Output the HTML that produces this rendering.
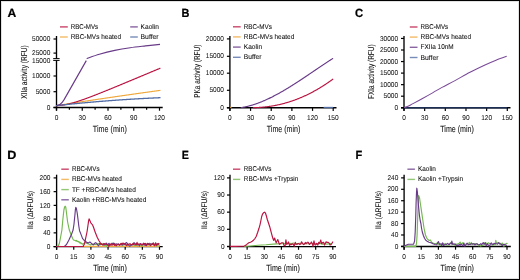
<!DOCTYPE html>
<html><head><meta charset="utf-8"><style>
html,body{margin:0;padding:0;background:#fff;}
body{width:520px;height:280px;overflow:hidden;position:relative;font-family:"Liberation Sans", sans-serif;}
</style></head><body>
<svg width="520" height="280" viewBox="0 0 520 280" text-rendering="geometricPrecision" style="position:absolute;left:0;top:0" font-family='"Liberation Sans", sans-serif'>
<defs><filter id="bl" x="-5%" y="-5%" width="110%" height="110%"><feGaussianBlur stdDeviation="0.32"/></filter></defs>
<rect x="0" y="0" width="520" height="280" fill="#fff"/>
<g filter="url(#bl)">
<rect x="1.5" y="1.5" width="517" height="277" fill="none" stroke="#e2e2e2" stroke-width="1"/>
<rect x="0.5" y="0.5" width="519" height="279" fill="none" stroke="#000" stroke-width="1"/>
<text transform="translate(7.40,16.75) scale(1.02,1)" font-size="11.9" font-weight="bold" fill="#000" stroke="#000" stroke-width="0.22">A</text>
<line x1="56.50" y1="36.00" x2="56.50" y2="58.60" stroke="#000" stroke-width="1.35"/>
<line x1="56.50" y1="60.40" x2="56.50" y2="110.60" stroke="#000" stroke-width="1.35"/>
<line x1="53.20" y1="58.60" x2="59.60" y2="58.60" stroke="#000" stroke-width="1.0"/>
<line x1="53.20" y1="60.40" x2="59.60" y2="60.40" stroke="#000" stroke-width="1.0"/>
<line x1="53.50" y1="39.00" x2="56.50" y2="39.00" stroke="#000" stroke-width="1.2"/>
<text x="50.30" y="41.15" font-size="7.0" text-anchor="end" font-weight="normal" fill="#111" stroke="#111" stroke-width="0.04" textLength="18.2" lengthAdjust="spacingAndGlyphs">50000</text>
<line x1="53.50" y1="53.10" x2="56.50" y2="53.10" stroke="#000" stroke-width="1.2"/>
<text x="50.30" y="55.25" font-size="7.0" text-anchor="end" font-weight="normal" fill="#111" stroke="#111" stroke-width="0.04" textLength="18.2" lengthAdjust="spacingAndGlyphs">25000</text>
<line x1="53.50" y1="76.00" x2="56.50" y2="76.00" stroke="#000" stroke-width="1.2"/>
<text x="50.30" y="78.15" font-size="7.0" text-anchor="end" font-weight="normal" fill="#111" stroke="#111" stroke-width="0.04" textLength="18.2" lengthAdjust="spacingAndGlyphs">10000</text>
<line x1="53.50" y1="91.70" x2="56.50" y2="91.70" stroke="#000" stroke-width="1.2"/>
<text x="50.30" y="93.85" font-size="7.0" text-anchor="end" font-weight="normal" fill="#111" stroke="#111" stroke-width="0.04" textLength="14.56" lengthAdjust="spacingAndGlyphs">5000</text>
<line x1="53.50" y1="107.50" x2="56.50" y2="107.50" stroke="#000" stroke-width="1.2"/>
<text x="50.30" y="109.65" font-size="7.0" text-anchor="end" font-weight="normal" fill="#111" stroke="#111" stroke-width="0.04" textLength="3.64" lengthAdjust="spacingAndGlyphs">0</text>
<text x="50.30" y="62.55" font-size="7.0" text-anchor="end" font-weight="normal" fill="#111" stroke="#111" stroke-width="0.04" textLength="18.2" lengthAdjust="spacingAndGlyphs">15000</text>
<line x1="53.50" y1="107.50" x2="162.70" y2="107.50" stroke="#000" stroke-width="1.35"/>
<line x1="56.50" y1="107.50" x2="56.50" y2="110.70" stroke="#000" stroke-width="1.2"/>
<text x="56.50" y="119.60" font-size="7.0" text-anchor="middle" font-weight="normal" fill="#111" stroke="#111" stroke-width="0.04" textLength="3.64" lengthAdjust="spacingAndGlyphs">0</text>
<line x1="69.38" y1="107.50" x2="69.38" y2="109.70" stroke="#000" stroke-width="1.2"/>
<line x1="82.25" y1="107.50" x2="82.25" y2="110.70" stroke="#000" stroke-width="1.2"/>
<text x="82.25" y="119.60" font-size="7.0" text-anchor="middle" font-weight="normal" fill="#111" stroke="#111" stroke-width="0.04" textLength="7.28" lengthAdjust="spacingAndGlyphs">30</text>
<line x1="95.12" y1="107.50" x2="95.12" y2="109.70" stroke="#000" stroke-width="1.2"/>
<line x1="108.00" y1="107.50" x2="108.00" y2="110.70" stroke="#000" stroke-width="1.2"/>
<text x="108.00" y="119.60" font-size="7.0" text-anchor="middle" font-weight="normal" fill="#111" stroke="#111" stroke-width="0.04" textLength="7.28" lengthAdjust="spacingAndGlyphs">60</text>
<line x1="120.88" y1="107.50" x2="120.88" y2="109.70" stroke="#000" stroke-width="1.2"/>
<line x1="133.75" y1="107.50" x2="133.75" y2="110.70" stroke="#000" stroke-width="1.2"/>
<text x="133.75" y="119.60" font-size="7.0" text-anchor="middle" font-weight="normal" fill="#111" stroke="#111" stroke-width="0.04" textLength="7.28" lengthAdjust="spacingAndGlyphs">90</text>
<line x1="146.62" y1="107.50" x2="146.62" y2="109.70" stroke="#000" stroke-width="1.2"/>
<line x1="159.50" y1="107.50" x2="159.50" y2="110.70" stroke="#000" stroke-width="1.2"/>
<text x="159.50" y="119.60" font-size="7.0" text-anchor="middle" font-weight="normal" fill="#111" stroke="#111" stroke-width="0.04" textLength="10.92" lengthAdjust="spacingAndGlyphs">120</text>
<text x="109.85" y="131.75" font-size="9.2" text-anchor="middle" font-weight="normal" fill="#111" stroke="#111" stroke-width="0.08" textLength="34.0" lengthAdjust="spacingAndGlyphs">Time (min)</text>
<text transform="translate(26.60,72.00) rotate(-90)" x="0" y="0" font-size="8.6" text-anchor="middle" fill="#111" stroke="#111" stroke-width="0.08" textLength="53.5" lengthAdjust="spacingAndGlyphs">XIIa activity (RFU)</text>
<line x1="60.00" y1="26.90" x2="67.80" y2="26.90" stroke="#c9466a" stroke-width="1.4"/>
<text x="70.70" y="28.60" font-size="7.0" text-anchor="start" font-weight="normal" fill="#111" stroke="#111" stroke-width="0.08" textLength="27.5" lengthAdjust="spacingAndGlyphs">RBC-MVs</text>
<line x1="60.00" y1="37.00" x2="67.80" y2="37.00" stroke="#f3bb66" stroke-width="1.4"/>
<text x="70.70" y="38.80" font-size="7.0" text-anchor="start" font-weight="normal" fill="#111" stroke="#111" stroke-width="0.08" textLength="50.3" lengthAdjust="spacingAndGlyphs">RBC-MVs heated</text>
<line x1="130.20" y1="26.90" x2="137.80" y2="26.90" stroke="#8965a2" stroke-width="1.4"/>
<text x="140.60" y="28.60" font-size="7.0" text-anchor="start" font-weight="normal" fill="#111" stroke="#111" stroke-width="0.08" textLength="18.4" lengthAdjust="spacingAndGlyphs">Kaolin</text>
<line x1="130.20" y1="37.00" x2="137.80" y2="37.00" stroke="#778cb8" stroke-width="1.4"/>
<text x="140.60" y="38.80" font-size="7.0" text-anchor="start" font-weight="normal" fill="#111" stroke="#111" stroke-width="0.08" textLength="18.0" lengthAdjust="spacingAndGlyphs">Buffer</text>
<polyline points="56.50,105.60 57.00,105.52 57.50,105.44 58.00,105.37 58.50,105.29 59.00,105.21 59.50,105.13 60.00,105.05 60.50,104.98 61.00,104.90 61.50,104.82 62.00,104.74 62.50,104.66 63.00,104.59 63.50,104.51 64.00,104.43 64.50,104.35 65.00,104.28 65.50,104.20 66.00,104.12 66.50,104.04 67.00,103.97 67.50,103.89 68.00,103.81 68.50,103.74 69.00,103.66 69.50,103.58 70.00,103.50 70.50,103.43 71.00,103.35 71.50,103.27 72.00,103.20 72.50,103.12 73.00,103.04 73.50,102.97 74.00,102.89 74.50,102.81 75.00,102.74 75.50,102.66 76.00,102.58 76.50,102.51 77.00,102.43 77.50,102.35 78.00,102.28 78.50,102.20 79.00,102.13 79.50,102.05 80.00,101.97 80.50,101.90 81.00,101.82 81.50,101.75 82.00,101.67 82.50,101.59 83.00,101.52 83.50,101.44 84.00,101.37 84.50,101.29 85.00,101.22 85.50,101.14 86.00,101.06 86.50,100.99 87.00,100.91 87.50,100.84 88.00,100.76 88.50,100.69 89.00,100.61 89.50,100.54 90.00,100.46 90.50,100.39 91.00,100.31 91.50,100.24 92.00,100.16 92.50,100.09 93.00,100.01 93.50,99.94 94.00,99.86 94.50,99.79 95.00,99.71 95.50,99.64 96.00,99.56 96.50,99.49 97.00,99.42 97.50,99.34 98.00,99.27 98.50,99.19 99.00,99.12 99.50,99.04 100.00,98.97 100.50,98.90 101.00,98.82 101.50,98.75 102.00,98.67 102.50,98.60 103.00,98.53 103.50,98.45 104.00,98.38 104.50,98.30 105.00,98.23 105.50,98.16 106.00,98.08 106.50,98.01 107.00,97.94 107.50,97.86 108.00,97.79 108.50,97.72 109.00,97.64 109.50,97.57 110.00,97.50 110.50,97.42 111.00,97.35 111.50,97.28 112.00,97.20 112.50,97.13 113.00,97.06 113.50,96.98 114.00,96.91 114.50,96.84 115.00,96.77 115.50,96.69 116.00,96.62 116.50,96.55 117.00,96.47 117.50,96.40 118.00,96.33 118.50,96.26 119.00,96.18 119.50,96.11 120.00,96.04 120.50,95.97 121.00,95.90 121.50,95.82 122.00,95.75 122.50,95.68 123.00,95.61 123.50,95.53 124.00,95.46 124.50,95.39 125.00,95.32 125.50,95.25 126.00,95.18 126.50,95.10 127.00,95.03 127.50,94.96 128.00,94.89 128.50,94.82 129.00,94.75 129.50,94.67 130.00,94.60 130.50,94.53 131.00,94.46 131.50,94.39 132.00,94.32 132.50,94.25 133.00,94.18 133.50,94.10 134.00,94.03 134.50,93.96 135.00,93.89 135.50,93.82 136.00,93.75 136.50,93.68 137.00,93.61 137.50,93.54 138.00,93.47 138.50,93.40 139.00,93.33 139.50,93.26 140.00,93.18 140.50,93.11 141.00,93.04 141.50,92.97 142.00,92.90 142.50,92.83 143.00,92.76 143.50,92.69 144.00,92.62 144.50,92.55 145.00,92.48 145.50,92.41 146.00,92.34 146.50,92.27 147.00,92.20 147.50,92.13 148.00,92.06 148.50,91.99 149.00,91.92 149.50,91.86 150.00,91.79 150.50,91.72 151.00,91.65 151.50,91.58 152.00,91.51 152.50,91.44 153.00,91.37 153.50,91.30 154.00,91.23 154.50,91.16 155.00,91.09 155.50,91.02 156.00,90.95 156.50,90.89 157.00,90.82 157.50,90.75 158.00,90.68 158.50,90.61 159.00,90.54 159.50,90.47 160.00,90.40" fill="none" stroke="#f0a83c" stroke-width="1.15" stroke-linejoin="round" stroke-linecap="round"/>
<polyline points="56.50,105.60 57.00,105.60 57.50,105.59 58.00,105.57 58.50,105.55 59.00,105.52 59.50,105.48 60.00,105.44 60.50,105.39 61.00,105.34 61.50,105.28 62.00,105.22 62.50,105.15 63.00,105.08 63.50,105.00 64.00,104.92 64.50,104.83 65.00,104.74 65.50,104.65 66.00,104.55 66.50,104.45 67.00,104.34 67.50,104.23 68.00,104.12 68.50,104.00 69.00,103.89 69.50,103.76 70.00,103.64 70.50,103.51 71.00,103.38 71.50,103.25 72.00,103.11 72.50,102.97 73.00,102.83 73.50,102.69 74.00,102.55 74.50,102.40 75.00,102.25 75.50,102.10 76.00,101.95 76.50,101.79 77.00,101.63 77.50,101.47 78.00,101.31 78.50,101.15 79.00,100.99 79.50,100.82 80.00,100.66 80.50,100.49 81.00,100.32 81.50,100.15 82.00,99.97 82.50,99.80 83.00,99.63 83.50,99.45 84.00,99.27 84.50,99.09 85.00,98.92 85.50,98.74 86.00,98.55 86.50,98.37 87.00,98.19 87.50,98.00 88.00,97.82 88.50,97.63 89.00,97.45 89.50,97.26 90.00,97.07 90.50,96.88 91.00,96.69 91.50,96.50 92.00,96.31 92.50,96.12 93.00,95.93 93.50,95.74 94.00,95.54 94.50,95.35 95.00,95.15 95.50,94.96 96.00,94.76 96.50,94.57 97.00,94.37 97.50,94.17 98.00,93.98 98.50,93.78 99.00,93.58 99.50,93.38 100.00,93.18 100.50,92.98 101.00,92.78 101.50,92.58 102.00,92.38 102.50,92.18 103.00,91.98 103.50,91.78 104.00,91.58 104.50,91.38 105.00,91.18 105.50,90.97 106.00,90.77 106.50,90.57 107.00,90.37 107.50,90.16 108.00,89.96 108.50,89.75 109.00,89.55 109.50,89.35 110.00,89.14 110.50,88.94 111.00,88.73 111.50,88.53 112.00,88.32 112.50,88.12 113.00,87.91 113.50,87.71 114.00,87.50 114.50,87.29 115.00,87.09 115.50,86.88 116.00,86.68 116.50,86.47 117.00,86.26 117.50,86.06 118.00,85.85 118.50,85.64 119.00,85.44 119.50,85.23 120.00,85.02 120.50,84.81 121.00,84.61 121.50,84.40 122.00,84.19 122.50,83.98 123.00,83.78 123.50,83.57 124.00,83.36 124.50,83.15 125.00,82.95 125.50,82.74 126.00,82.53 126.50,82.32 127.00,82.11 127.50,81.90 128.00,81.70 128.50,81.49 129.00,81.28 129.50,81.07 130.00,80.86 130.50,80.65 131.00,80.45 131.50,80.24 132.00,80.03 132.50,79.82 133.00,79.61 133.50,79.40 134.00,79.19 134.50,78.98 135.00,78.77 135.50,78.57 136.00,78.36 136.50,78.15 137.00,77.94 137.50,77.73 138.00,77.52 138.50,77.31 139.00,77.10 139.50,76.89 140.00,76.68 140.50,76.47 141.00,76.26 141.50,76.05 142.00,75.85 142.50,75.64 143.00,75.43 143.50,75.22 144.00,75.01 144.50,74.80 145.00,74.59 145.50,74.38 146.00,74.17 146.50,73.96 147.00,73.75 147.50,73.54 148.00,73.33 148.50,73.12 149.00,72.91 149.50,72.70 150.00,72.49 150.50,72.28 151.00,72.07 151.50,71.86 152.00,71.65 152.50,71.44 153.00,71.24 153.50,71.03 154.00,70.82 154.50,70.61 155.00,70.40 155.50,70.19 156.00,69.98 156.50,69.77 157.00,69.56 157.50,69.35 158.00,69.14 158.50,68.93 159.00,68.72 159.50,68.51 160.00,68.30" fill="none" stroke="#bb1240" stroke-width="1.15" stroke-linejoin="round" stroke-linecap="round"/>
<polyline points="56.50,105.60 57.00,105.55 57.50,105.49 58.00,105.44 58.50,105.38 59.00,105.33 59.50,105.27 60.00,105.22 60.50,105.17 61.00,105.11 61.50,105.06 62.00,105.01 62.50,104.95 63.00,104.90 63.50,104.85 64.00,104.79 64.50,104.74 65.00,104.69 65.50,104.64 66.00,104.59 66.50,104.53 67.00,104.48 67.50,104.43 68.00,104.38 68.50,104.33 69.00,104.28 69.50,104.23 70.00,104.18 70.50,104.12 71.00,104.07 71.50,104.02 72.00,103.97 72.50,103.92 73.00,103.87 73.50,103.83 74.00,103.78 74.50,103.73 75.00,103.68 75.50,103.63 76.00,103.58 76.50,103.53 77.00,103.48 77.50,103.43 78.00,103.39 78.50,103.34 79.00,103.29 79.50,103.24 80.00,103.20 80.50,103.15 81.00,103.10 81.50,103.05 82.00,103.01 82.50,102.96 83.00,102.92 83.50,102.87 84.00,102.82 84.50,102.78 85.00,102.73 85.50,102.69 86.00,102.64 86.50,102.59 87.00,102.55 87.50,102.50 88.00,102.46 88.50,102.41 89.00,102.37 89.50,102.33 90.00,102.28 90.50,102.24 91.00,102.19 91.50,102.15 92.00,102.11 92.50,102.06 93.00,102.02 93.50,101.98 94.00,101.93 94.50,101.89 95.00,101.85 95.50,101.81 96.00,101.76 96.50,101.72 97.00,101.68 97.50,101.64 98.00,101.60 98.50,101.56 99.00,101.51 99.50,101.47 100.00,101.43 100.50,101.39 101.00,101.35 101.50,101.31 102.00,101.27 102.50,101.23 103.00,101.19 103.50,101.15 104.00,101.11 104.50,101.07 105.00,101.03 105.50,100.99 106.00,100.95 106.50,100.91 107.00,100.88 107.50,100.84 108.00,100.80 108.50,100.76 109.00,100.72 109.50,100.69 110.00,100.65 110.50,100.61 111.00,100.57 111.50,100.54 112.00,100.50 112.50,100.46 113.00,100.42 113.50,100.39 114.00,100.35 114.50,100.32 115.00,100.28 115.50,100.24 116.00,100.21 116.50,100.17 117.00,100.14 117.50,100.10 118.00,100.07 118.50,100.03 119.00,100.00 119.50,99.96 120.00,99.93 120.50,99.89 121.00,99.86 121.50,99.83 122.00,99.79 122.50,99.76 123.00,99.72 123.50,99.69 124.00,99.66 124.50,99.62 125.00,99.59 125.50,99.56 126.00,99.53 126.50,99.49 127.00,99.46 127.50,99.43 128.00,99.40 128.50,99.37 129.00,99.34 129.50,99.30 130.00,99.27 130.50,99.24 131.00,99.21 131.50,99.18 132.00,99.15 132.50,99.12 133.00,99.09 133.50,99.06 134.00,99.03 134.50,99.00 135.00,98.97 135.50,98.94 136.00,98.91 136.50,98.88 137.00,98.85 137.50,98.82 138.00,98.80 138.50,98.77 139.00,98.74 139.50,98.71 140.00,98.68 140.50,98.65 141.00,98.63 141.50,98.60 142.00,98.57 142.50,98.54 143.00,98.52 143.50,98.49 144.00,98.46 144.50,98.44 145.00,98.41 145.50,98.39 146.00,98.36 146.50,98.33 147.00,98.31 147.50,98.28 148.00,98.26 148.50,98.23 149.00,98.21 149.50,98.18 150.00,98.16 150.50,98.13 151.00,98.11 151.50,98.08 152.00,98.06 152.50,98.04 153.00,98.01 153.50,97.99 154.00,97.96 154.50,97.94 155.00,97.92 155.50,97.90 156.00,97.87 156.50,97.85 157.00,97.83 157.50,97.81 158.00,97.78 158.50,97.76 159.00,97.74 159.50,97.72 160.00,97.70" fill="none" stroke="#516ca5" stroke-width="1.3" stroke-linejoin="round" stroke-linecap="round"/>
<path d="M56.8,105.6 C59.2,105.3 60.8,104.2 62.2,102.3 L64.1,99.6 L86.3,60.6" fill="none" stroke="#683a88" stroke-width="1.15" stroke-linejoin="round"/>
<path d="M86.70,58.60 C88.82,57.88 94.72,55.67 99.40,54.30 C104.08,52.93 109.67,51.50 114.80,50.40 C119.93,49.30 125.08,48.45 130.20,47.70 C135.32,46.95 140.53,46.45 145.50,45.90 C150.47,45.35 157.58,44.65 160.00,44.40" fill="none" stroke="#683a88" stroke-width="1.15" stroke-linejoin="round"/>
<text transform="translate(181.42,16.75) scale(0.92,1)" font-size="11.9" font-weight="bold" fill="#000" stroke="#000" stroke-width="0.22">B</text>
<line x1="229.90" y1="36.00" x2="229.90" y2="110.80" stroke="#000" stroke-width="1.35"/>
<line x1="226.90" y1="38.90" x2="229.90" y2="38.90" stroke="#000" stroke-width="1.2"/>
<text x="224.00" y="41.05" font-size="7.0" text-anchor="end" font-weight="normal" fill="#111" stroke="#111" stroke-width="0.04" textLength="18.2" lengthAdjust="spacingAndGlyphs">20000</text>
<line x1="226.90" y1="56.30" x2="229.90" y2="56.30" stroke="#000" stroke-width="1.2"/>
<text x="224.00" y="58.45" font-size="7.0" text-anchor="end" font-weight="normal" fill="#111" stroke="#111" stroke-width="0.04" textLength="18.2" lengthAdjust="spacingAndGlyphs">15000</text>
<line x1="226.90" y1="73.20" x2="229.90" y2="73.20" stroke="#000" stroke-width="1.2"/>
<text x="224.00" y="75.35" font-size="7.0" text-anchor="end" font-weight="normal" fill="#111" stroke="#111" stroke-width="0.04" textLength="18.2" lengthAdjust="spacingAndGlyphs">10000</text>
<line x1="226.90" y1="90.30" x2="229.90" y2="90.30" stroke="#000" stroke-width="1.2"/>
<text x="224.00" y="92.45" font-size="7.0" text-anchor="end" font-weight="normal" fill="#111" stroke="#111" stroke-width="0.04" textLength="14.56" lengthAdjust="spacingAndGlyphs">5000</text>
<line x1="226.90" y1="107.70" x2="229.90" y2="107.70" stroke="#000" stroke-width="1.2"/>
<text x="224.00" y="109.85" font-size="7.0" text-anchor="end" font-weight="normal" fill="#111" stroke="#111" stroke-width="0.04" textLength="3.64" lengthAdjust="spacingAndGlyphs">0</text>
<line x1="226.90" y1="107.70" x2="336.50" y2="107.70" stroke="#000" stroke-width="1.35"/>
<line x1="229.90" y1="107.70" x2="229.90" y2="110.90" stroke="#000" stroke-width="1.2"/>
<text x="229.90" y="119.60" font-size="7.0" text-anchor="middle" font-weight="normal" fill="#111" stroke="#111" stroke-width="0.04" textLength="3.64" lengthAdjust="spacingAndGlyphs">0</text>
<line x1="250.56" y1="107.70" x2="250.56" y2="110.90" stroke="#000" stroke-width="1.2"/>
<text x="250.56" y="119.60" font-size="7.0" text-anchor="middle" font-weight="normal" fill="#111" stroke="#111" stroke-width="0.04" textLength="7.28" lengthAdjust="spacingAndGlyphs">30</text>
<line x1="271.22" y1="107.70" x2="271.22" y2="110.90" stroke="#000" stroke-width="1.2"/>
<text x="271.22" y="119.60" font-size="7.0" text-anchor="middle" font-weight="normal" fill="#111" stroke="#111" stroke-width="0.04" textLength="7.28" lengthAdjust="spacingAndGlyphs">60</text>
<line x1="291.88" y1="107.70" x2="291.88" y2="110.90" stroke="#000" stroke-width="1.2"/>
<text x="291.88" y="119.60" font-size="7.0" text-anchor="middle" font-weight="normal" fill="#111" stroke="#111" stroke-width="0.04" textLength="7.28" lengthAdjust="spacingAndGlyphs">90</text>
<line x1="312.54" y1="107.70" x2="312.54" y2="110.90" stroke="#000" stroke-width="1.2"/>
<text x="312.54" y="119.60" font-size="7.0" text-anchor="middle" font-weight="normal" fill="#111" stroke="#111" stroke-width="0.04" textLength="10.92" lengthAdjust="spacingAndGlyphs">120</text>
<line x1="333.20" y1="107.70" x2="333.20" y2="110.90" stroke="#000" stroke-width="1.2"/>
<text x="333.20" y="119.60" font-size="7.0" text-anchor="middle" font-weight="normal" fill="#111" stroke="#111" stroke-width="0.04" textLength="10.92" lengthAdjust="spacingAndGlyphs">150</text>
<text x="283.60" y="131.80" font-size="9.2" text-anchor="middle" font-weight="normal" fill="#111" stroke="#111" stroke-width="0.08" textLength="33.7" lengthAdjust="spacingAndGlyphs">Time (min)</text>
<text transform="translate(200.40,71.20) rotate(-90)" x="0" y="0" font-size="8.6" text-anchor="middle" fill="#111" stroke="#111" stroke-width="0.08" textLength="53.2" lengthAdjust="spacingAndGlyphs">PKa activity (RFU)</text>
<line x1="233.00" y1="26.80" x2="240.70" y2="26.80" stroke="#c9466a" stroke-width="1.4"/>
<text x="243.80" y="28.90" font-size="7.0" text-anchor="start" font-weight="normal" fill="#111" stroke="#111" stroke-width="0.08" textLength="28.0" lengthAdjust="spacingAndGlyphs">RBC-MVs</text>
<line x1="233.00" y1="36.90" x2="240.70" y2="36.90" stroke="#f3bb66" stroke-width="1.4"/>
<text x="243.80" y="39.00" font-size="7.0" text-anchor="start" font-weight="normal" fill="#111" stroke="#111" stroke-width="0.08" textLength="50.5" lengthAdjust="spacingAndGlyphs">RBC-MVs heated</text>
<line x1="233.00" y1="47.10" x2="240.70" y2="47.10" stroke="#8965a2" stroke-width="1.4"/>
<text x="243.80" y="49.20" font-size="7.0" text-anchor="start" font-weight="normal" fill="#111" stroke="#111" stroke-width="0.08" textLength="18.3" lengthAdjust="spacingAndGlyphs">Kaolin</text>
<line x1="233.00" y1="57.30" x2="240.70" y2="57.30" stroke="#778cb8" stroke-width="1.4"/>
<text x="243.80" y="59.40" font-size="7.0" text-anchor="start" font-weight="normal" fill="#111" stroke="#111" stroke-width="0.08" textLength="17.8" lengthAdjust="spacingAndGlyphs">Buffer</text>
<line x1="230.20" y1="107.40" x2="231.50" y2="107.40" stroke="#f0a83c" stroke-width="1.3"/>
<line x1="323.60" y1="107.50" x2="333.20" y2="107.50" stroke="#516ca5" stroke-width="1.3"/>
<polyline points="241.20,107.60 241.70,107.54 242.20,107.46 242.70,107.37 243.20,107.28 243.70,107.19 244.20,107.09 244.70,106.99 245.20,106.88 245.70,106.78 246.20,106.67 246.70,106.55 247.20,106.44 247.70,106.32 248.20,106.19 248.70,106.06 249.20,105.93 249.70,105.80 250.20,105.66 250.70,105.52 251.20,105.38 251.70,105.24 252.20,105.09 252.70,104.93 253.20,104.78 253.70,104.62 254.20,104.46 254.70,104.30 255.20,104.13 255.70,103.96 256.20,103.79 256.70,103.61 257.20,103.43 257.70,103.25 258.20,103.07 258.70,102.88 259.20,102.69 259.70,102.50 260.20,102.30 260.70,102.11 261.20,101.91 261.70,101.70 262.20,101.50 262.70,101.29 263.20,101.08 263.70,100.87 264.20,100.65 264.70,100.44 265.20,100.22 265.70,99.99 266.20,99.77 266.70,99.54 267.20,99.31 267.70,99.08 268.20,98.84 268.70,98.61 269.20,98.37 269.70,98.13 270.20,97.88 270.70,97.64 271.20,97.39 271.70,97.14 272.20,96.89 272.70,96.64 273.20,96.38 273.70,96.12 274.20,95.86 274.70,95.60 275.20,95.34 275.70,95.07 276.20,94.81 276.70,94.54 277.20,94.27 277.70,93.99 278.20,93.72 278.70,93.44 279.20,93.16 279.70,92.88 280.20,92.60 280.70,92.32 281.20,92.03 281.70,91.75 282.20,91.46 282.70,91.17 283.20,90.88 283.70,90.59 284.20,90.29 284.70,90.00 285.20,89.70 285.70,89.40 286.20,89.10 286.70,88.80 287.20,88.50 287.70,88.19 288.20,87.89 288.70,87.58 289.20,87.27 289.70,86.96 290.20,86.65 290.70,86.34 291.20,86.03 291.70,85.72 292.20,85.40 292.70,85.09 293.20,84.77 293.70,84.45 294.20,84.13 294.70,83.81 295.20,83.49 295.70,83.17 296.20,82.85 296.70,82.52 297.20,82.20 297.70,81.88 298.20,81.55 298.70,81.22 299.20,80.90 299.70,80.57 300.20,80.24 300.70,79.91 301.20,79.58 301.70,79.25 302.20,78.92 302.70,78.58 303.20,78.25 303.70,77.92 304.20,77.59 304.70,77.25 305.20,76.92 305.70,76.58 306.20,76.25 306.70,75.91 307.20,75.57 307.70,75.24 308.20,74.90 308.70,74.56 309.20,74.23 309.70,73.89 310.20,73.55 310.70,73.21 311.20,72.88 311.70,72.54 312.20,72.20 312.70,71.86 313.20,71.52 313.70,71.18 314.20,70.85 314.70,70.51 315.20,70.17 315.70,69.83 316.20,69.49 316.70,69.16 317.20,68.82 317.70,68.48 318.20,68.14 318.70,67.80 319.20,67.47 319.70,67.13 320.20,66.79 320.70,66.46 321.20,66.12 321.70,65.79 322.20,65.45 322.70,65.12 323.20,64.78 323.70,64.45 324.20,64.11 324.70,63.78 325.20,63.45 325.70,63.12 326.20,62.79 326.70,62.46 327.20,62.13 327.70,61.80 328.20,61.47 328.70,61.14 329.20,60.81 329.70,60.49 330.20,60.16 330.70,59.84 331.20,59.51 331.70,59.19 332.20,58.87 332.70,58.54" fill="none" stroke="#683a88" stroke-width="1.15" stroke-linejoin="round" stroke-linecap="round"/>
<polyline points="253.30,107.64 253.80,107.63 254.30,107.63 254.80,107.62 255.30,107.60 255.80,107.59 256.30,107.57 256.80,107.55 257.30,107.53 257.80,107.51 258.30,107.49 258.80,107.46 259.30,107.43 259.80,107.40 260.30,107.37 260.80,107.33 261.30,107.30 261.80,107.26 262.30,107.22 262.80,107.18 263.30,107.13 263.80,107.08 264.30,107.03 264.80,106.98 265.30,106.93 265.80,106.88 266.30,106.82 266.80,106.76 267.30,106.70 267.80,106.63 268.30,106.57 268.80,106.50 269.30,106.43 269.80,106.36 270.30,106.28 270.80,106.21 271.30,106.13 271.80,106.05 272.30,105.97 272.80,105.88 273.30,105.79 273.80,105.71 274.30,105.61 274.80,105.52 275.30,105.43 275.80,105.33 276.30,105.23 276.80,105.13 277.30,105.02 277.80,104.92 278.30,104.81 278.80,104.70 279.30,104.58 279.80,104.47 280.30,104.35 280.80,104.23 281.30,104.11 281.80,103.99 282.30,103.86 282.80,103.73 283.30,103.60 283.80,103.47 284.30,103.34 284.80,103.20 285.30,103.06 285.80,102.92 286.30,102.78 286.80,102.63 287.30,102.48 287.80,102.33 288.30,102.18 288.80,102.03 289.30,101.87 289.80,101.71 290.30,101.55 290.80,101.38 291.30,101.22 291.80,101.05 292.30,100.88 292.80,100.71 293.30,100.53 293.80,100.35 294.30,100.17 294.80,99.99 295.30,99.81 295.80,99.62 296.30,99.43 296.80,99.24 297.30,99.05 297.80,98.85 298.30,98.66 298.80,98.46 299.30,98.25 299.80,98.05 300.30,97.84 300.80,97.63 301.30,97.42 301.80,97.21 302.30,96.99 302.80,96.77 303.30,96.55 303.80,96.33 304.30,96.10 304.80,95.87 305.30,95.64 305.80,95.41 306.30,95.17 306.80,94.94 307.30,94.70 307.80,94.45 308.30,94.21 308.80,93.96 309.30,93.71 309.80,93.46 310.30,93.21 310.80,92.95 311.30,92.69 311.80,92.43 312.30,92.16 312.80,91.90 313.30,91.63 313.80,91.36 314.30,91.08 314.80,90.81 315.30,90.53 315.80,90.25 316.30,89.97 316.80,89.68 317.30,89.39 317.80,89.10 318.30,88.81 318.80,88.51 319.30,88.22 319.80,87.91 320.30,87.61 320.80,87.31 321.30,87.00 321.80,86.69 322.30,86.38 322.80,86.06 323.30,85.74 323.80,85.42 324.30,85.10 324.80,84.78 325.30,84.45 325.80,84.12 326.30,83.78 326.80,83.45 327.30,83.11 327.80,82.77 328.30,82.43 328.80,82.08 329.30,81.74 329.80,81.39 330.30,81.03 330.80,80.68 331.30,80.32 331.80,79.96 332.30,79.60 332.80,79.23" fill="none" stroke="#bb1240" stroke-width="1.15" stroke-linejoin="round" stroke-linecap="round"/>
<text transform="translate(354.89,16.80) scale(0.95,1)" font-size="11.9" font-weight="bold" fill="#000" stroke="#000" stroke-width="0.22">C</text>
<line x1="404.00" y1="36.00" x2="404.00" y2="110.80" stroke="#000" stroke-width="1.35"/>
<line x1="401.00" y1="38.45" x2="404.00" y2="38.45" stroke="#000" stroke-width="1.2"/>
<text x="398.10" y="40.60" font-size="7.0" text-anchor="end" font-weight="normal" fill="#111" stroke="#111" stroke-width="0.04" textLength="18.2" lengthAdjust="spacingAndGlyphs">30000</text>
<line x1="401.00" y1="50.00" x2="404.00" y2="50.00" stroke="#000" stroke-width="1.2"/>
<text x="398.10" y="52.15" font-size="7.0" text-anchor="end" font-weight="normal" fill="#111" stroke="#111" stroke-width="0.04" textLength="18.2" lengthAdjust="spacingAndGlyphs">25000</text>
<line x1="401.00" y1="61.55" x2="404.00" y2="61.55" stroke="#000" stroke-width="1.2"/>
<text x="398.10" y="63.70" font-size="7.0" text-anchor="end" font-weight="normal" fill="#111" stroke="#111" stroke-width="0.04" textLength="18.2" lengthAdjust="spacingAndGlyphs">20000</text>
<line x1="401.00" y1="73.10" x2="404.00" y2="73.10" stroke="#000" stroke-width="1.2"/>
<text x="398.10" y="75.25" font-size="7.0" text-anchor="end" font-weight="normal" fill="#111" stroke="#111" stroke-width="0.04" textLength="18.2" lengthAdjust="spacingAndGlyphs">15000</text>
<line x1="401.00" y1="84.65" x2="404.00" y2="84.65" stroke="#000" stroke-width="1.2"/>
<text x="398.10" y="86.80" font-size="7.0" text-anchor="end" font-weight="normal" fill="#111" stroke="#111" stroke-width="0.04" textLength="18.2" lengthAdjust="spacingAndGlyphs">10000</text>
<line x1="401.00" y1="96.20" x2="404.00" y2="96.20" stroke="#000" stroke-width="1.2"/>
<text x="398.10" y="98.35" font-size="7.0" text-anchor="end" font-weight="normal" fill="#111" stroke="#111" stroke-width="0.04" textLength="14.56" lengthAdjust="spacingAndGlyphs">5000</text>
<line x1="401.00" y1="107.75" x2="404.00" y2="107.75" stroke="#000" stroke-width="1.2"/>
<text x="398.10" y="109.90" font-size="7.0" text-anchor="end" font-weight="normal" fill="#111" stroke="#111" stroke-width="0.04" textLength="3.64" lengthAdjust="spacingAndGlyphs">0</text>
<line x1="401.00" y1="107.70" x2="510.50" y2="107.70" stroke="#000" stroke-width="1.35"/>
<line x1="404.00" y1="107.70" x2="404.00" y2="110.90" stroke="#000" stroke-width="1.2"/>
<text x="404.00" y="119.60" font-size="7.0" text-anchor="middle" font-weight="normal" fill="#111" stroke="#111" stroke-width="0.04" textLength="3.64" lengthAdjust="spacingAndGlyphs">0</text>
<line x1="424.66" y1="107.70" x2="424.66" y2="110.90" stroke="#000" stroke-width="1.2"/>
<text x="424.66" y="119.60" font-size="7.0" text-anchor="middle" font-weight="normal" fill="#111" stroke="#111" stroke-width="0.04" textLength="7.28" lengthAdjust="spacingAndGlyphs">30</text>
<line x1="445.32" y1="107.70" x2="445.32" y2="110.90" stroke="#000" stroke-width="1.2"/>
<text x="445.32" y="119.60" font-size="7.0" text-anchor="middle" font-weight="normal" fill="#111" stroke="#111" stroke-width="0.04" textLength="7.28" lengthAdjust="spacingAndGlyphs">60</text>
<line x1="465.98" y1="107.70" x2="465.98" y2="110.90" stroke="#000" stroke-width="1.2"/>
<text x="465.98" y="119.60" font-size="7.0" text-anchor="middle" font-weight="normal" fill="#111" stroke="#111" stroke-width="0.04" textLength="7.28" lengthAdjust="spacingAndGlyphs">90</text>
<line x1="486.64" y1="107.70" x2="486.64" y2="110.90" stroke="#000" stroke-width="1.2"/>
<text x="486.64" y="119.60" font-size="7.0" text-anchor="middle" font-weight="normal" fill="#111" stroke="#111" stroke-width="0.04" textLength="10.92" lengthAdjust="spacingAndGlyphs">120</text>
<line x1="507.30" y1="107.70" x2="507.30" y2="110.90" stroke="#000" stroke-width="1.2"/>
<text x="507.30" y="119.60" font-size="7.0" text-anchor="middle" font-weight="normal" fill="#111" stroke="#111" stroke-width="0.04" textLength="10.92" lengthAdjust="spacingAndGlyphs">150</text>
<text x="457.10" y="131.75" font-size="9.2" text-anchor="middle" font-weight="normal" fill="#111" stroke="#111" stroke-width="0.08" textLength="33.7" lengthAdjust="spacingAndGlyphs">Time (min)</text>
<text transform="translate(374.20,71.70) rotate(-90)" x="0" y="0" font-size="8.6" text-anchor="middle" fill="#111" stroke="#111" stroke-width="0.08" textLength="54.6" lengthAdjust="spacingAndGlyphs">FXIa activity (RFU)</text>
<line x1="409.80" y1="27.00" x2="417.50" y2="27.00" stroke="#c9466a" stroke-width="1.4"/>
<text x="420.50" y="29.10" font-size="7.0" text-anchor="start" font-weight="normal" fill="#111" stroke="#111" stroke-width="0.08" textLength="27.7" lengthAdjust="spacingAndGlyphs">RBC-MVs</text>
<line x1="409.80" y1="37.10" x2="417.50" y2="37.10" stroke="#f3bb66" stroke-width="1.4"/>
<text x="420.50" y="39.20" font-size="7.0" text-anchor="start" font-weight="normal" fill="#111" stroke="#111" stroke-width="0.08" textLength="50.5" lengthAdjust="spacingAndGlyphs">RBC-MVs heated</text>
<line x1="409.80" y1="47.30" x2="417.50" y2="47.30" stroke="#8965a2" stroke-width="1.4"/>
<text x="420.50" y="49.40" font-size="7.0" text-anchor="start" font-weight="normal" fill="#111" stroke="#111" stroke-width="0.08" textLength="33.1" lengthAdjust="spacingAndGlyphs">FXIIa 10nM</text>
<line x1="409.80" y1="57.50" x2="417.50" y2="57.50" stroke="#778cb8" stroke-width="1.4"/>
<text x="420.50" y="59.60" font-size="7.0" text-anchor="start" font-weight="normal" fill="#111" stroke="#111" stroke-width="0.08" textLength="17.9" lengthAdjust="spacingAndGlyphs">Buffer</text>
<line x1="404.00" y1="107.70" x2="507.30" y2="107.70" stroke="#1a2d52" stroke-width="1.35"/>
<path d="M404.00,107.60 C404.67,107.38 406.50,106.97 408.00,106.30 C409.50,105.63 410.43,104.98 413.00,103.60 C415.57,102.22 420.07,99.83 423.40,98.00 C426.73,96.17 429.90,94.37 433.00,92.60 C436.10,90.83 438.33,89.40 442.00,87.40 C445.67,85.40 450.33,83.12 455.00,80.60 C459.67,78.08 465.00,74.90 470.00,72.30 C475.00,69.70 480.67,67.02 485.00,65.00 C489.33,62.98 492.38,61.65 496.00,60.20 C499.62,58.75 504.92,56.95 506.70,56.30" fill="none" stroke="#7a4a98" stroke-width="1.05" stroke-linejoin="round"/>
<text transform="translate(7.25,159.40) scale(1.06,1)" font-size="11.9" font-weight="bold" fill="#000" stroke="#000" stroke-width="0.22">D</text>
<line x1="56.60" y1="174.70" x2="56.60" y2="249.80" stroke="#000" stroke-width="1.35"/>
<line x1="53.60" y1="246.60" x2="56.60" y2="246.60" stroke="#000" stroke-width="1.2"/>
<text x="50.50" y="248.75" font-size="7.0" text-anchor="end" font-weight="normal" fill="#111" stroke="#111" stroke-width="0.04" textLength="3.64" lengthAdjust="spacingAndGlyphs">0</text>
<line x1="53.60" y1="232.86" x2="56.60" y2="232.86" stroke="#000" stroke-width="1.2"/>
<text x="50.50" y="235.01" font-size="7.0" text-anchor="end" font-weight="normal" fill="#111" stroke="#111" stroke-width="0.04" textLength="7.28" lengthAdjust="spacingAndGlyphs">40</text>
<line x1="53.60" y1="219.12" x2="56.60" y2="219.12" stroke="#000" stroke-width="1.2"/>
<text x="50.50" y="221.27" font-size="7.0" text-anchor="end" font-weight="normal" fill="#111" stroke="#111" stroke-width="0.04" textLength="7.28" lengthAdjust="spacingAndGlyphs">80</text>
<line x1="53.60" y1="205.38" x2="56.60" y2="205.38" stroke="#000" stroke-width="1.2"/>
<text x="50.50" y="207.53" font-size="7.0" text-anchor="end" font-weight="normal" fill="#111" stroke="#111" stroke-width="0.04" textLength="10.92" lengthAdjust="spacingAndGlyphs">120</text>
<line x1="53.60" y1="191.64" x2="56.60" y2="191.64" stroke="#000" stroke-width="1.2"/>
<text x="50.50" y="193.79" font-size="7.0" text-anchor="end" font-weight="normal" fill="#111" stroke="#111" stroke-width="0.04" textLength="10.92" lengthAdjust="spacingAndGlyphs">160</text>
<line x1="53.60" y1="177.90" x2="56.60" y2="177.90" stroke="#000" stroke-width="1.2"/>
<text x="50.50" y="180.05" font-size="7.0" text-anchor="end" font-weight="normal" fill="#111" stroke="#111" stroke-width="0.04" textLength="10.92" lengthAdjust="spacingAndGlyphs">200</text>
<line x1="53.60" y1="246.60" x2="162.70" y2="246.60" stroke="#000" stroke-width="1.35"/>
<line x1="56.60" y1="246.60" x2="56.60" y2="249.80" stroke="#000" stroke-width="1.2"/>
<text x="56.60" y="258.70" font-size="7.0" text-anchor="middle" font-weight="normal" fill="#111" stroke="#111" stroke-width="0.04" textLength="3.64" lengthAdjust="spacingAndGlyphs">0</text>
<line x1="73.75" y1="246.60" x2="73.75" y2="249.80" stroke="#000" stroke-width="1.2"/>
<text x="73.75" y="258.70" font-size="7.0" text-anchor="middle" font-weight="normal" fill="#111" stroke="#111" stroke-width="0.04" textLength="7.28" lengthAdjust="spacingAndGlyphs">15</text>
<line x1="90.90" y1="246.60" x2="90.90" y2="249.80" stroke="#000" stroke-width="1.2"/>
<text x="90.90" y="258.70" font-size="7.0" text-anchor="middle" font-weight="normal" fill="#111" stroke="#111" stroke-width="0.04" textLength="7.28" lengthAdjust="spacingAndGlyphs">30</text>
<line x1="108.05" y1="246.60" x2="108.05" y2="249.80" stroke="#000" stroke-width="1.2"/>
<text x="108.05" y="258.70" font-size="7.0" text-anchor="middle" font-weight="normal" fill="#111" stroke="#111" stroke-width="0.04" textLength="7.28" lengthAdjust="spacingAndGlyphs">45</text>
<line x1="125.20" y1="246.60" x2="125.20" y2="249.80" stroke="#000" stroke-width="1.2"/>
<text x="125.20" y="258.70" font-size="7.0" text-anchor="middle" font-weight="normal" fill="#111" stroke="#111" stroke-width="0.04" textLength="7.28" lengthAdjust="spacingAndGlyphs">60</text>
<line x1="142.35" y1="246.60" x2="142.35" y2="249.80" stroke="#000" stroke-width="1.2"/>
<text x="142.35" y="258.70" font-size="7.0" text-anchor="middle" font-weight="normal" fill="#111" stroke="#111" stroke-width="0.04" textLength="7.28" lengthAdjust="spacingAndGlyphs">75</text>
<line x1="159.50" y1="246.60" x2="159.50" y2="249.80" stroke="#000" stroke-width="1.2"/>
<text x="159.50" y="258.70" font-size="7.0" text-anchor="middle" font-weight="normal" fill="#111" stroke="#111" stroke-width="0.04" textLength="7.28" lengthAdjust="spacingAndGlyphs">90</text>
<text x="110.00" y="271.05" font-size="9.2" text-anchor="middle" font-weight="normal" fill="#111" stroke="#111" stroke-width="0.08" textLength="33.7" lengthAdjust="spacingAndGlyphs">Time (min)</text>
<text transform="translate(33.10,209.90) rotate(-90)" x="0" y="0" font-size="8.1" text-anchor="middle" fill="#111" stroke="#111" stroke-width="0.08" textLength="38.0" lengthAdjust="spacingAndGlyphs">IIa (ΔRFU/s)</text>
<line x1="61.30" y1="169.20" x2="68.80" y2="169.20" stroke="#c9466a" stroke-width="1.4"/>
<text x="71.90" y="171.20" font-size="7.0" text-anchor="start" font-weight="normal" fill="#111" stroke="#111" stroke-width="0.08" textLength="27.7" lengthAdjust="spacingAndGlyphs">RBC-MVs</text>
<line x1="61.30" y1="179.40" x2="68.80" y2="179.40" stroke="#f3bb66" stroke-width="1.4"/>
<text x="71.90" y="181.40" font-size="7.0" text-anchor="start" font-weight="normal" fill="#111" stroke="#111" stroke-width="0.08" textLength="50.0" lengthAdjust="spacingAndGlyphs">RBC-MVs heated</text>
<line x1="61.30" y1="189.60" x2="68.80" y2="189.60" stroke="#92c776" stroke-width="1.4"/>
<text x="71.90" y="191.70" font-size="7.0" text-anchor="start" font-weight="normal" fill="#111" stroke="#111" stroke-width="0.08" textLength="63.9" lengthAdjust="spacingAndGlyphs">TF +RBC-MVs heated</text>
<line x1="61.30" y1="199.80" x2="68.80" y2="199.80" stroke="#8965a2" stroke-width="1.4"/>
<text x="71.90" y="201.90" font-size="7.0" text-anchor="start" font-weight="normal" fill="#111" stroke="#111" stroke-width="0.08" textLength="74.4" lengthAdjust="spacingAndGlyphs">Kaolin +RBC-MVs heated</text>
<line x1="83.50" y1="246.30" x2="159.50" y2="246.30" stroke="#f0a83c" stroke-width="1.2"/>
<polyline points="56.80,246.30 58.30,246.00 59.50,243.00 60.80,236.00 61.90,230.00 62.80,220.00 63.90,210.00 64.60,207.00 65.10,206.20 65.70,206.80 66.20,210.50 66.80,215.50 67.70,222.50 69.30,230.00 71.30,235.20 72.50,238.20 73.50,240.00 74.60,240.30 75.80,241.00 76.50,240.40 77.10,241.60 77.80,241.10 78.40,242.00 79.00,241.60 79.60,242.90 80.30,242.40 80.90,243.60 81.50,243.20 82.20,244.20 83.00,243.90 83.80,243.60 84.50,242.80 85.10,242.30 85.90,243.00 86.70,243.20 87.60,243.80 88.60,243.90 89.60,244.50 90.60,244.90 91.50,244.30 92.50,244.20 93.50,244.70 94.60,244.30 95.70,244.50 96.60,244.10 97.60,243.90 99.00,243.62 100.25,244.77 101.23,243.54 102.04,244.45 103.05,243.62 103.81,243.57 104.69,245.60 105.81,245.21 106.53,246.30 107.62,244.29 108.69,244.57 109.71,244.60 110.45,244.70 111.16,245.00 112.14,243.21 113.15,245.01 114.24,243.44 115.21,244.50 116.08,246.30 117.28,244.47 118.41,244.29 119.28,244.98 120.02,244.57 121.23,243.78 122.16,245.85 122.86,244.14 123.69,245.19 124.98,244.07 125.92,245.41 127.08,244.95 127.95,245.05 129.22,244.84 130.38,244.90 131.14,244.87 131.88,244.63 132.91,244.07 133.88,244.93 134.66,245.59 135.74,245.06 136.57,245.00 137.43,245.78 138.32,244.26 139.55,244.68 140.76,245.20 141.84,246.25 142.67,245.78 143.53,244.59 144.41,243.86 145.15,245.30 146.00,245.01 147.06,243.95 148.33,245.07 149.32,243.21 150.13,243.85 150.92,245.61 151.77,243.78 152.59,244.39 153.41,242.79 154.68,245.22 155.63,243.84 156.39,246.29 157.23,244.94 158.36,244.44 159.41,245.84" fill="none" stroke="#74b850" stroke-width="1.15" stroke-linejoin="round" stroke-linecap="round"/>
<polyline points="56.80,246.50 64.40,246.40 66.50,244.50 68.90,240.00 71.40,234.60 73.10,230.00 74.00,224.00 74.90,215.00 75.40,209.50 75.80,207.30 76.40,208.50 77.20,213.00 78.10,220.00 78.80,226.00 79.60,231.00 80.30,232.50 81.20,234.90 82.50,238.40 83.80,240.00 85.40,241.30 87.00,242.60 88.30,242.90 89.90,242.00 91.20,243.20 93.10,244.90 94.40,243.50 95.70,242.60 97.00,243.90 98.50,245.99 99.74,243.44 100.49,243.61 101.50,243.85 102.28,244.60 103.11,245.09 104.09,244.63 105.21,244.35 106.17,243.03 107.08,244.20 107.82,244.51 108.91,243.28 109.98,245.03 111.14,244.16 112.06,243.27 112.95,243.80 113.70,243.08 114.76,244.50 115.72,243.99 116.53,243.91 117.42,244.51 118.19,243.83 118.95,244.91 120.00,244.45 121.19,243.94 122.06,244.95 122.94,244.47 123.80,243.33 124.56,244.56 125.76,243.11 126.60,242.62 127.66,243.81 128.93,245.35 129.66,246.14 130.61,245.71 131.72,244.51 133.01,244.94 134.03,242.51 135.32,244.30 136.61,243.58 137.53,244.41 138.51,244.59 139.33,246.05 140.16,243.52 140.92,243.83 141.95,244.21 143.14,244.28 144.38,245.12 145.34,243.39 146.53,245.67 147.77,243.99 148.89,243.56 150.08,243.93 150.96,243.86 151.91,244.44 152.94,243.31 154.13,245.16 155.03,244.99 156.07,244.60 157.34,243.79 158.08,243.40 158.93,243.93" fill="none" stroke="#683a88" stroke-width="1.15" stroke-linejoin="round" stroke-linecap="round"/>
<polyline points="56.80,246.50 82.90,246.50 84.50,244.00 85.70,238.00 87.00,232.00 88.10,224.50 88.60,220.80 89.10,218.90 89.90,220.60 90.80,222.80 91.80,224.00 92.70,225.20 93.60,227.50 94.60,230.50 95.50,233.00 96.30,235.00 97.20,237.20 98.90,240.50 100.00,242.30 100.80,244.24 101.82,244.04 102.96,244.95 103.99,243.47 104.86,243.98 105.92,244.32 106.92,244.23 108.01,245.26 108.93,246.30 110.07,243.80 110.79,245.06 111.66,244.74 112.72,244.94 113.75,243.38 114.74,245.48 115.53,244.63 116.43,245.71 117.62,244.47 118.32,244.23 119.19,244.31 119.94,245.33 121.12,243.28 121.91,244.13 122.86,243.03 124.05,243.88 125.13,243.88 126.07,244.69 126.76,245.61 127.68,244.34 128.71,244.38 129.43,243.92 130.11,243.74 131.34,244.88 132.30,244.61 133.10,243.40 134.10,244.21 135.07,244.23 136.13,245.00 137.04,242.41 137.71,244.14 138.53,244.12 139.63,244.28 140.52,244.16 141.74,244.94 142.43,245.01 143.61,243.13 144.67,243.75 145.86,245.33 146.55,245.19 147.33,243.31 148.54,244.37 149.36,244.48 150.32,245.59 151.24,244.61 152.09,244.44 153.31,243.15 154.47,245.74 155.62,242.79 156.56,245.29 157.58,244.81 158.80,243.73" fill="none" stroke="#bb1240" stroke-width="1.15" stroke-linejoin="round" stroke-linecap="round"/>
<text transform="translate(181.63,159.40) scale(0.9,1)" font-size="11.9" font-weight="bold" fill="#000" stroke="#000" stroke-width="0.22">E</text>
<line x1="230.00" y1="174.70" x2="230.00" y2="249.80" stroke="#000" stroke-width="1.35"/>
<line x1="227.00" y1="246.40" x2="230.00" y2="246.40" stroke="#000" stroke-width="1.2"/>
<text x="224.60" y="248.55" font-size="7.0" text-anchor="end" font-weight="normal" fill="#111" stroke="#111" stroke-width="0.04" textLength="3.64" lengthAdjust="spacingAndGlyphs">0</text>
<line x1="227.00" y1="229.28" x2="230.00" y2="229.28" stroke="#000" stroke-width="1.2"/>
<text x="224.60" y="231.43" font-size="7.0" text-anchor="end" font-weight="normal" fill="#111" stroke="#111" stroke-width="0.04" textLength="7.28" lengthAdjust="spacingAndGlyphs">30</text>
<line x1="227.00" y1="212.15" x2="230.00" y2="212.15" stroke="#000" stroke-width="1.2"/>
<text x="224.60" y="214.30" font-size="7.0" text-anchor="end" font-weight="normal" fill="#111" stroke="#111" stroke-width="0.04" textLength="7.28" lengthAdjust="spacingAndGlyphs">60</text>
<line x1="227.00" y1="195.03" x2="230.00" y2="195.03" stroke="#000" stroke-width="1.2"/>
<text x="224.60" y="197.18" font-size="7.0" text-anchor="end" font-weight="normal" fill="#111" stroke="#111" stroke-width="0.04" textLength="7.28" lengthAdjust="spacingAndGlyphs">90</text>
<line x1="227.00" y1="177.90" x2="230.00" y2="177.90" stroke="#000" stroke-width="1.2"/>
<text x="224.60" y="180.05" font-size="7.0" text-anchor="end" font-weight="normal" fill="#111" stroke="#111" stroke-width="0.04" textLength="10.92" lengthAdjust="spacingAndGlyphs">120</text>
<line x1="227.00" y1="246.60" x2="336.00" y2="246.60" stroke="#000" stroke-width="1.35"/>
<line x1="230.00" y1="246.60" x2="230.00" y2="249.80" stroke="#000" stroke-width="1.2"/>
<text x="230.00" y="258.70" font-size="7.0" text-anchor="middle" font-weight="normal" fill="#111" stroke="#111" stroke-width="0.04" textLength="3.64" lengthAdjust="spacingAndGlyphs">0</text>
<line x1="247.13" y1="246.60" x2="247.13" y2="249.80" stroke="#000" stroke-width="1.2"/>
<text x="247.13" y="258.70" font-size="7.0" text-anchor="middle" font-weight="normal" fill="#111" stroke="#111" stroke-width="0.04" textLength="7.28" lengthAdjust="spacingAndGlyphs">15</text>
<line x1="264.27" y1="246.60" x2="264.27" y2="249.80" stroke="#000" stroke-width="1.2"/>
<text x="264.27" y="258.70" font-size="7.0" text-anchor="middle" font-weight="normal" fill="#111" stroke="#111" stroke-width="0.04" textLength="7.28" lengthAdjust="spacingAndGlyphs">30</text>
<line x1="281.40" y1="246.60" x2="281.40" y2="249.80" stroke="#000" stroke-width="1.2"/>
<text x="281.40" y="258.70" font-size="7.0" text-anchor="middle" font-weight="normal" fill="#111" stroke="#111" stroke-width="0.04" textLength="7.28" lengthAdjust="spacingAndGlyphs">45</text>
<line x1="298.53" y1="246.60" x2="298.53" y2="249.80" stroke="#000" stroke-width="1.2"/>
<text x="298.53" y="258.70" font-size="7.0" text-anchor="middle" font-weight="normal" fill="#111" stroke="#111" stroke-width="0.04" textLength="7.28" lengthAdjust="spacingAndGlyphs">60</text>
<line x1="315.67" y1="246.60" x2="315.67" y2="249.80" stroke="#000" stroke-width="1.2"/>
<text x="315.67" y="258.70" font-size="7.0" text-anchor="middle" font-weight="normal" fill="#111" stroke="#111" stroke-width="0.04" textLength="7.28" lengthAdjust="spacingAndGlyphs">75</text>
<line x1="332.80" y1="246.60" x2="332.80" y2="249.80" stroke="#000" stroke-width="1.2"/>
<text x="332.80" y="258.70" font-size="7.0" text-anchor="middle" font-weight="normal" fill="#111" stroke="#111" stroke-width="0.04" textLength="7.28" lengthAdjust="spacingAndGlyphs">90</text>
<text x="283.10" y="270.90" font-size="9.2" text-anchor="middle" font-weight="normal" fill="#111" stroke="#111" stroke-width="0.08" textLength="33.7" lengthAdjust="spacingAndGlyphs">Time (min)</text>
<text transform="translate(206.70,209.90) rotate(-90)" x="0" y="0" font-size="8.1" text-anchor="middle" fill="#111" stroke="#111" stroke-width="0.08" textLength="38.0" lengthAdjust="spacingAndGlyphs">IIa (ΔRFU/s)</text>
<line x1="233.00" y1="169.20" x2="240.30" y2="169.20" stroke="#c9466a" stroke-width="1.4"/>
<text x="243.80" y="171.20" font-size="7.0" text-anchor="start" font-weight="normal" fill="#111" stroke="#111" stroke-width="0.08" textLength="27.7" lengthAdjust="spacingAndGlyphs">RBC-MVs</text>
<line x1="233.00" y1="179.40" x2="240.30" y2="179.40" stroke="#92c776" stroke-width="1.4"/>
<text x="243.80" y="181.40" font-size="7.0" text-anchor="start" font-weight="normal" fill="#111" stroke="#111" stroke-width="0.08" textLength="54.5" lengthAdjust="spacingAndGlyphs">RBC-MVs +Trypsin</text>
<polyline points="244.50,246.40 250.00,246.00 258.00,245.30 266.00,244.80 276.40,243.90 285.70,243.50 287.00,243.32 289.35,243.32 291.89,243.57 293.32,243.06 295.28,243.93 297.76,243.48 299.30,243.42 301.35,243.63 303.44,243.77 305.17,243.61 307.67,243.61 310.03,243.46 311.59,243.51 313.00,243.52 315.44,243.64 318.02,243.76 320.47,243.45 322.52,244.19 324.73,243.76 326.96,244.15 329.52,243.76 331.35,243.47" fill="none" stroke="#74b850" stroke-width="1.15" stroke-linejoin="round" stroke-linecap="round"/>
<polyline points="230.20,246.30 236.00,246.30 241.00,246.20 244.10,246.10 245.30,245.50 246.50,244.70 247.70,243.60 248.80,242.70 250.50,242.20 252.20,241.20 253.70,240.00 255.10,238.30 256.30,236.20 257.70,232.30 259.00,228.30 260.10,224.30 261.00,220.00 261.70,216.50 262.50,214.20 263.50,212.80 264.60,212.20 265.50,213.20 266.40,216.00 267.30,219.50 268.50,223.00 269.70,226.70 270.60,230.00 271.40,233.10 272.20,236.00 273.00,238.80 273.80,240.40 274.60,238.00 275.40,240.50 276.20,242.80 277.00,241.00 277.80,239.60 278.60,242.00 279.40,244.40 280.60,243.50 281.80,242.80 283.20,242.74 283.87,245.32 285.10,245.85 285.91,239.92 286.69,244.45 287.37,243.91 288.43,241.91 289.53,245.50 290.39,244.24 291.07,244.71 292.11,243.89 293.28,244.33 294.19,246.30 295.24,242.31 296.04,244.22 297.13,244.43 298.08,243.52 298.95,243.85 299.84,244.55 300.67,244.04 301.57,241.82 302.72,243.67 303.56,244.57 304.34,244.26 305.34,242.40 306.06,243.78 307.15,242.23 308.22,242.25 309.37,244.47 310.30,243.80 311.37,241.96 312.21,243.56 313.01,246.30 313.96,240.80 314.89,244.89 315.68,244.95 316.70,243.32 317.86,245.12 318.70,242.42 319.64,243.34 320.80,240.04 321.70,243.77 322.62,242.60 323.67,242.31 324.50,245.04 325.20,243.72 326.01,241.87 327.19,242.38 328.24,242.41 329.18,243.17 330.01,244.97 331.03,244.63 331.87,243.49 332.72,241.91" fill="none" stroke="#bb1240" stroke-width="1.15" stroke-linejoin="round" stroke-linecap="round"/>
<text transform="translate(355.61,159.40) scale(0.93,1)" font-size="11.9" font-weight="bold" fill="#000" stroke="#000" stroke-width="0.22">F</text>
<line x1="404.10" y1="174.70" x2="404.10" y2="249.70" stroke="#000" stroke-width="1.35"/>
<line x1="401.10" y1="246.40" x2="404.10" y2="246.40" stroke="#000" stroke-width="1.2"/>
<text x="398.30" y="248.55" font-size="7.0" text-anchor="end" font-weight="normal" fill="#111" stroke="#111" stroke-width="0.04" textLength="3.64" lengthAdjust="spacingAndGlyphs">0</text>
<line x1="401.10" y1="234.98" x2="404.10" y2="234.98" stroke="#000" stroke-width="1.2"/>
<text x="398.30" y="237.13" font-size="7.0" text-anchor="end" font-weight="normal" fill="#111" stroke="#111" stroke-width="0.04" textLength="7.28" lengthAdjust="spacingAndGlyphs">40</text>
<line x1="401.10" y1="223.56" x2="404.10" y2="223.56" stroke="#000" stroke-width="1.2"/>
<text x="398.30" y="225.71" font-size="7.0" text-anchor="end" font-weight="normal" fill="#111" stroke="#111" stroke-width="0.04" textLength="7.28" lengthAdjust="spacingAndGlyphs">80</text>
<line x1="401.10" y1="212.14" x2="404.10" y2="212.14" stroke="#000" stroke-width="1.2"/>
<text x="398.30" y="214.29" font-size="7.0" text-anchor="end" font-weight="normal" fill="#111" stroke="#111" stroke-width="0.04" textLength="10.92" lengthAdjust="spacingAndGlyphs">120</text>
<line x1="401.10" y1="200.72" x2="404.10" y2="200.72" stroke="#000" stroke-width="1.2"/>
<text x="398.30" y="202.87" font-size="7.0" text-anchor="end" font-weight="normal" fill="#111" stroke="#111" stroke-width="0.04" textLength="10.92" lengthAdjust="spacingAndGlyphs">160</text>
<line x1="401.10" y1="189.30" x2="404.10" y2="189.30" stroke="#000" stroke-width="1.2"/>
<text x="398.30" y="191.45" font-size="7.0" text-anchor="end" font-weight="normal" fill="#111" stroke="#111" stroke-width="0.04" textLength="10.92" lengthAdjust="spacingAndGlyphs">200</text>
<line x1="401.10" y1="177.88" x2="404.10" y2="177.88" stroke="#000" stroke-width="1.2"/>
<text x="398.30" y="180.03" font-size="7.0" text-anchor="end" font-weight="normal" fill="#111" stroke="#111" stroke-width="0.04" textLength="10.92" lengthAdjust="spacingAndGlyphs">240</text>
<line x1="401.10" y1="246.50" x2="510.80" y2="246.50" stroke="#000" stroke-width="1.35"/>
<line x1="404.10" y1="246.50" x2="404.10" y2="249.70" stroke="#000" stroke-width="1.2"/>
<text x="404.10" y="258.70" font-size="7.0" text-anchor="middle" font-weight="normal" fill="#111" stroke="#111" stroke-width="0.04" textLength="3.64" lengthAdjust="spacingAndGlyphs">0</text>
<line x1="421.25" y1="246.50" x2="421.25" y2="249.70" stroke="#000" stroke-width="1.2"/>
<text x="421.25" y="258.70" font-size="7.0" text-anchor="middle" font-weight="normal" fill="#111" stroke="#111" stroke-width="0.04" textLength="7.28" lengthAdjust="spacingAndGlyphs">15</text>
<line x1="438.40" y1="246.50" x2="438.40" y2="249.70" stroke="#000" stroke-width="1.2"/>
<text x="438.40" y="258.70" font-size="7.0" text-anchor="middle" font-weight="normal" fill="#111" stroke="#111" stroke-width="0.04" textLength="7.28" lengthAdjust="spacingAndGlyphs">30</text>
<line x1="455.55" y1="246.50" x2="455.55" y2="249.70" stroke="#000" stroke-width="1.2"/>
<text x="455.55" y="258.70" font-size="7.0" text-anchor="middle" font-weight="normal" fill="#111" stroke="#111" stroke-width="0.04" textLength="7.28" lengthAdjust="spacingAndGlyphs">45</text>
<line x1="472.70" y1="246.50" x2="472.70" y2="249.70" stroke="#000" stroke-width="1.2"/>
<text x="472.70" y="258.70" font-size="7.0" text-anchor="middle" font-weight="normal" fill="#111" stroke="#111" stroke-width="0.04" textLength="7.28" lengthAdjust="spacingAndGlyphs">60</text>
<line x1="489.85" y1="246.50" x2="489.85" y2="249.70" stroke="#000" stroke-width="1.2"/>
<text x="489.85" y="258.70" font-size="7.0" text-anchor="middle" font-weight="normal" fill="#111" stroke="#111" stroke-width="0.04" textLength="7.28" lengthAdjust="spacingAndGlyphs">75</text>
<line x1="507.00" y1="246.50" x2="507.00" y2="249.70" stroke="#000" stroke-width="1.2"/>
<text x="507.00" y="258.70" font-size="7.0" text-anchor="middle" font-weight="normal" fill="#111" stroke="#111" stroke-width="0.04" textLength="7.28" lengthAdjust="spacingAndGlyphs">90</text>
<text x="457.25" y="270.90" font-size="9.2" text-anchor="middle" font-weight="normal" fill="#111" stroke="#111" stroke-width="0.08" textLength="33.4" lengthAdjust="spacingAndGlyphs">Time (min)</text>
<text transform="translate(381.00,209.90) rotate(-90)" x="0" y="0" font-size="8.1" text-anchor="middle" fill="#111" stroke="#111" stroke-width="0.08" textLength="38.0" lengthAdjust="spacingAndGlyphs">IIa (ΔRFU/s)</text>
<line x1="407.40" y1="169.20" x2="414.90" y2="169.20" stroke="#8965a2" stroke-width="1.4"/>
<text x="418.00" y="171.20" font-size="7.0" text-anchor="start" font-weight="normal" fill="#111" stroke="#111" stroke-width="0.08" textLength="17.8" lengthAdjust="spacingAndGlyphs">Kaolin</text>
<line x1="407.40" y1="179.40" x2="414.90" y2="179.40" stroke="#92c776" stroke-width="1.4"/>
<text x="418.00" y="181.40" font-size="7.0" text-anchor="start" font-weight="normal" fill="#111" stroke="#111" stroke-width="0.08" textLength="45.1" lengthAdjust="spacingAndGlyphs">Kaolin +Trypsin</text>
<polyline points="404.30,246.30 415.80,246.30 416.50,243.50 417.10,235.00 417.60,220.00 418.10,205.00 418.60,195.60 419.50,197.50 420.50,204.50 421.60,211.80 422.80,220.00 424.00,228.00 424.80,232.00 425.50,235.00 426.60,237.80 427.80,239.50 429.30,240.50 430.50,240.00 431.50,242.20 433.70,243.50 435.00,243.45 436.28,243.69 437.53,242.61 438.36,244.29 439.20,243.65 440.02,245.43 441.31,244.57 442.06,244.27 443.22,243.28 444.12,244.81 445.20,243.46 446.16,244.37 447.04,245.37 448.15,245.15 449.25,244.71 450.17,243.35 451.13,242.82 451.83,244.81 452.81,243.14 453.52,243.81 454.65,245.24 455.44,244.07 456.16,244.15 456.95,244.32 458.06,243.88 459.15,243.10 460.14,242.04 461.02,244.02 462.25,243.47 462.95,242.64 463.70,244.87 464.97,244.18 466.19,244.26 467.32,243.59 468.48,244.62 469.26,242.41 470.07,244.42 471.31,242.48 472.28,244.40 473.55,243.66 474.78,243.81 475.81,244.31 476.92,243.81 477.79,244.27 478.98,245.90 479.83,245.22 480.66,246.06 481.90,245.75 482.79,245.15 484.02,244.79 484.73,242.73 485.70,242.60 486.75,244.24 487.61,243.33 488.71,242.88 489.61,243.62 490.87,243.66 492.11,245.41 493.05,244.64 493.79,244.23 494.58,244.64 495.50,244.60 495.80,240.40 496.47,243.27 497.58,242.76 498.50,243.37 499.27,242.96 500.30,243.40 501.44,245.31 502.29,243.03 503.16,244.42 503.89,246.30 505.03,244.93 506.00,243.62 507.12,243.34" fill="none" stroke="#74b850" stroke-width="1.15" stroke-linejoin="round" stroke-linecap="round"/>
<polyline points="404.30,246.10 406.00,245.30 408.40,244.20 413.60,244.10 414.60,241.00 415.20,232.00 415.70,218.00 416.10,203.00 416.50,193.00 416.80,188.20 417.40,192.00 418.00,200.00 418.70,208.00 419.50,216.00 420.30,221.00 420.90,223.50 421.50,228.00 422.30,232.00 423.40,235.50 424.50,238.20 425.80,240.30 427.20,241.20 429.00,242.30 431.00,242.80 433.00,243.80 435.00,244.50 436.80,244.80 438.40,241.50 439.50,244.20 441.00,243.68 441.75,245.71 442.62,242.82 443.53,245.52 444.59,244.75 445.71,244.63 446.74,244.12 447.73,243.34 448.55,244.35 449.36,244.59 450.33,243.07 451.41,243.50 451.80,241.00 452.60,244.29 453.83,244.18 454.83,243.95 455.62,244.45 456.36,245.63 457.29,245.17 458.45,245.55 459.28,244.18 460.07,245.32 460.98,244.07 462.25,245.19 462.95,245.91 463.92,243.05 464.89,246.30 465.93,244.74 467.13,243.12 468.32,244.75 469.26,244.50 470.20,244.51 471.49,243.85 472.68,243.89 473.85,243.74 474.97,244.80 476.14,243.72 476.97,243.83 477.82,244.44 479.09,244.82 480.18,244.30 480.88,243.68 481.72,245.05 482.45,243.38 483.27,242.61 484.19,244.25 485.31,242.87 486.20,245.82 487.39,243.79 488.46,245.32 489.52,246.22 490.52,243.63 491.31,242.90 492.12,244.01 493.24,244.69 494.03,243.39 495.18,243.45 496.36,243.73 497.59,244.20 498.67,242.49 499.86,244.28 500.91,243.82 501.65,244.69 502.37,245.64 503.15,244.50 504.27,244.20 505.55,244.89 506.47,245.35" fill="none" stroke="#683a88" stroke-width="1.15" stroke-linejoin="round" stroke-linecap="round"/>
</g>
</svg>
</body></html>
